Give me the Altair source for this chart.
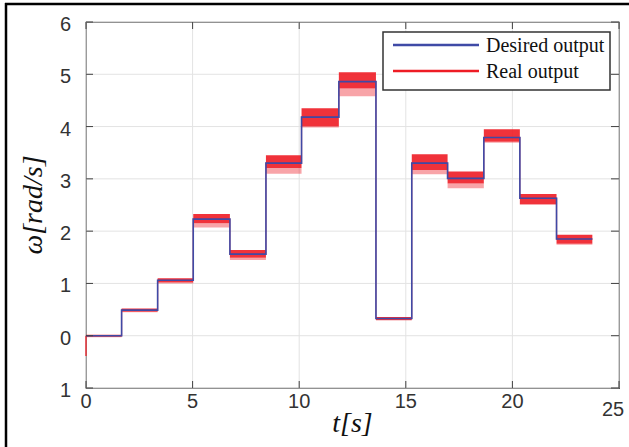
import altair as alt
import pandas as pd

# Step segments of the reference signal (time in s, speed in rad/s)
step_start = [0.0, 1.67, 3.36, 5.03, 6.75, 8.44, 10.11, 11.86, 13.60, 15.28, 16.96, 18.66, 20.35, 22.07]
step_end = [1.67, 3.36, 5.03, 6.75, 8.44, 10.11, 11.86, 13.60, 15.28, 16.96, 18.66, 20.35, 22.07, 23.75]
desired = [0.0, 0.49, 1.06, 2.23, 1.56, 3.30, 4.18, 4.86, 0.33, 3.30, 3.01, 3.79, 2.63, 1.85]

# Measured output: dense noise band per segment and the reach of the downward spikes
real_hi = [0.02, 0.52, 1.10, 2.33, 1.64, 3.45, 4.35, 5.04, 0.36, 3.47, 3.14, 3.95, 2.71, 1.93]
real_lo = [-0.02, 0.46, 1.02, 2.15, 1.49, 3.21, 4.00, 4.73, 0.30, 3.17, 2.91, 3.71, 2.52, 1.76]
real_min = [-0.03, 0.45, 1.00, 2.07, 1.45, 3.10, 3.98, 4.58, 0.29, 3.09, 2.82, 3.69, 2.50, 1.74]
start_dip = -0.39

# Axis ticks and their printed labels
x_ticks = [0, 5, 10, 15, 20, 25]
x_labels = ["0", "5", "10", "15", "20", "25"]
y_ticks = [-1, 0, 1, 2, 3, 4, 5, 6]
y_labels = ["1", "0", "1", "2", "3", "4", "5", "6"]

legend_labels = ["Desired output", "Real output"]
x_title = "t[s]"
y_title = "ω[rad/s]"

BLUE = "#3f4aa6"
RED = "#ee1c25"
AXIS = "#404040"
GRID = "#e3e3e3"
LABEL = "#333333"

W, H = 533, 366

seg = pd.DataFrame({
    "t0": step_start, "t1": step_end, "w": desired,
    "hi": real_hi, "lo": real_lo, "mn": real_min,
})
steps = pd.DataFrame({
    "t": step_start + [step_end[-1]],
    "w": desired + [desired[-1]],
})
dip = pd.DataFrame({"t": [0.0], "a": [0.0], "b": [start_dip]})
xt = pd.DataFrame({"v": x_ticks, "lab": x_labels})
yt = pd.DataFrame({"v": y_ticks, "lab": y_labels})
one = pd.DataFrame({"k": [0]})

xs = alt.Scale(domain=[0, 25], nice=False, zero=False)
ys = alt.Scale(domain=[-1, 6], nice=False, zero=False)


def X(field):
    return alt.X(field, type="quantitative", scale=xs, axis=None)


def Y(field):
    return alt.Y(field, type="quantitative", scale=ys, axis=None)


# grid lines
grid_x = alt.Chart(xt).mark_rule(color=GRID, strokeWidth=1).encode(
    x=X("v"), y=alt.value(0), y2=alt.value(H))
grid_y = alt.Chart(yt).mark_rule(color=GRID, strokeWidth=1).encode(
    y=Y("v"), x=alt.value(0), x2=alt.value(W))

# noise fringe of the measured output (sparse downward spikes)
fringe = alt.Chart(seg).mark_rect(color=RED, opacity=0.4).encode(
    x=X("t0"), x2="t1", y=Y("mn"), y2="lo")
# dense noise band of the measured output
band = alt.Chart(seg).mark_rect(color=RED, opacity=0.9).encode(
    x=X("t0"), x2="t1", y=Y("lo"), y2="hi")
real_step = alt.Chart(steps).mark_line(
    color=RED, strokeWidth=1.3, interpolate="step-after", opacity=0.6
).encode(x=X("t"), y=Y("w"))
real_dip = alt.Chart(dip).mark_rule(color=RED, strokeWidth=1.3).encode(
    x=X("t"), y=Y("a"), y2="b")
desired_line = alt.Chart(steps).mark_line(
    color=BLUE, strokeWidth=1.6, interpolate="step-after"
).encode(x=X("t"), y=Y("w"))

# inward tick marks on all four sides
tick_style = dict(color=AXIS, strokeWidth=1)
t_left = alt.Chart(yt).mark_rule(**tick_style).encode(y=Y("v"), x=alt.value(0), x2=alt.value(7))
t_right = alt.Chart(yt).mark_rule(**tick_style).encode(y=Y("v"), x=alt.value(W - 8), x2=alt.value(W))
t_bottom = alt.Chart(xt).mark_rule(**tick_style).encode(x=X("v"), y=alt.value(H - 7), y2=alt.value(H))
t_top = alt.Chart(xt).mark_rule(**tick_style).encode(x=X("v"), y=alt.value(0), y2=alt.value(7))

# tick labels
lab_style = dict(font="Liberation Sans", fontSize=20, color=LABEL)
y_lab = alt.Chart(yt).mark_text(align="right", baseline="middle", dy=3, **lab_style).encode(
    y=Y("v"), x=alt.value(-15), text="lab:N")
x_lab = alt.Chart(xt).transform_filter("datum.v < 25").mark_text(
    align="center", baseline="top", **lab_style
).encode(x=X("v"), y=alt.value(H + 4), text="lab:N")
x_lab_last = alt.Chart(xt).transform_filter("datum.v == 25").mark_text(
    align="center", baseline="top", dx=-6, **lab_style
).encode(x=X("v"), y=alt.value(H + 12), text="lab:N")

# axis titles
title_style = dict(font="Liberation Serif", fontStyle="italic", fontSize=28, color="#111111")
x_tit = alt.Chart(one).mark_text(text=x_title, align="center", baseline="middle", **title_style).encode(
    x=alt.value(W / 2), y=alt.value(402))
y_tit = alt.Chart(one).mark_text(text=y_title, align="center", baseline="middle", angle=270, **title_style).encode(
    x=alt.value(-52), y=alt.value(H / 2))

# legend box
lg_box = alt.Chart(one).mark_rect(
    fill="white", stroke="#333333", strokeWidth=1.5
).encode(x=alt.value(297), x2=alt.value(524), y=alt.value(10), y2=alt.value(68))
lg_blue = alt.Chart(one).mark_rule(color=BLUE, strokeWidth=2.5).encode(
    x=alt.value(307), x2=alt.value(393), y=alt.value(23))
lg_red = alt.Chart(one).mark_rule(color=RED, strokeWidth=2.5).encode(
    x=alt.value(307), x2=alt.value(393), y=alt.value(49))
text_style = dict(align="left", baseline="middle", font="Liberation Serif", fontSize=20, color="#111111")
lg_text0 = alt.Chart(one).mark_text(text=legend_labels[0], **text_style).encode(
    x=alt.value(400), y=alt.value(24))
lg_text1 = alt.Chart(one).mark_text(text=legend_labels[1], **text_style).encode(
    x=alt.value(400), y=alt.value(50))

# outer frame
frame_left = alt.Chart(one).mark_rule(color="black", strokeWidth=2.5).encode(
    x=alt.value(-80), y=alt.value(-19), y2=alt.value(H + 80))
frame_top = alt.Chart(one).mark_rule(color="black", strokeWidth=2.5).encode(
    x=alt.value(-81), x2=alt.value(W + 40), y=alt.value(-18))

chart = alt.layer(
    grid_x, grid_y, fringe, band, real_step, real_dip, desired_line,
    t_left, t_right, t_bottom, t_top,
    y_lab, x_lab, x_lab_last, x_tit, y_tit,
    lg_box, lg_blue, lg_red, lg_text0, lg_text1,
    frame_left, frame_top,
).properties(
    width=W, height=H,
    autosize=alt.AutoSizeParams(type="none"),
    padding={"left": 86, "top": 22, "right": 10, "bottom": 59},
    background="white",
).configure_view(stroke=AXIS, strokeWidth=1.2)

chart.save("out.html", embed_options={"renderer": "svg", "actions": False})
